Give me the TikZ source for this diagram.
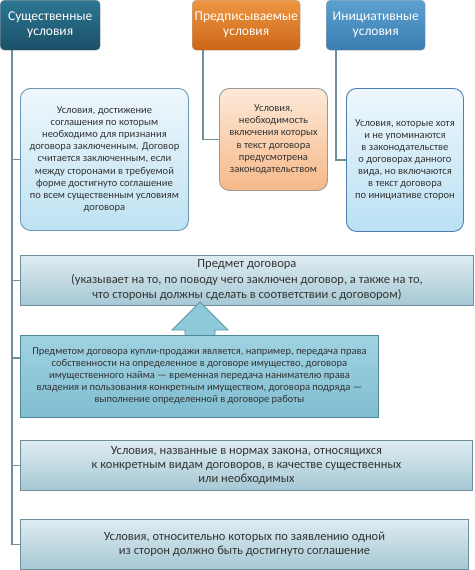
\documentclass[tikz,border=0pt]{standalone}
\usepackage{fontspec}
\setmainfont{Carlito}
\definecolor{linegray}{HTML}{6E8F99}
\definecolor{txt}{HTML}{333333}
\definecolor{widetop}{RGB}{222,236,241}
\definecolor{widebot}{RGB}{165,200,212}
\tikzstyle{head}=[anchor=north west,rounded corners=4pt,text=white,align=center,
  font=\fontsize{13.5}{15}\selectfont,minimum height=50pt,inner sep=2pt,draw=black!30]
\tikzstyle{desc}=[anchor=north west,rounded corners=10pt,align=center,text=txt,
  font=\fontsize{10.5}{12.1}\selectfont,inner sep=2pt,line width=0.9pt]
\tikzstyle{wide}=[anchor=north west,align=center,text=txt,draw=linegray,line width=0.9pt,
  top color=widetop,bottom color=widebot,
  font=\fontsize{12.5}{15.5}\selectfont,inner sep=2pt,minimum height=50pt]
\tikzstyle{link}=[draw=linegray,line width=1.1pt]

\begin{document}
\begin{tikzpicture}[x=1pt,y=-1pt]
        \useasboundingbox[fill=white] (0,0) rectangle (474,570);
        % headings
        \node[head,top color={rgb,255:red,44;green,118;blue,146},bottom color={rgb,255:red,26;green,80;blue,103},minimum width=100pt] (ess) at (0,0) {Существенные\\условия};
        \node[head,top color={rgb,255:red,238;green,150;blue,66},bottom color={rgb,255:red,203;green,102;blue,22},minimum width=108pt] (pres) at (192,0) {Предписываемые\\условия};
        \node[head,top color={rgb,255:red,92;green,160;blue,208},bottom color={rgb,255:red,58;green,124;blue,176},minimum width=99pt] (init) at (326,0) {Инициативные\\условия};
        % descriptions
        \node[desc,draw={rgb,255:red,106;green,151;blue,181},top color={rgb,255:red,238;green,247;blue,252},bottom color={rgb,255:red,190;green,226;blue,242},minimum width=168pt,minimum height=142pt] (essdesc) at (20,88) {Условия, достижение\\соглашения по которым\\необходимо для признания\\договора заключенным. Договор\\считается заключенным, если\\между сторонами в требуемой\\форме достигнуто соглашение\\по всем существенным условиям\\договора};
        \node[desc,draw=black!40,top color={rgb,255:red,253;green,234;blue,216},bottom color={rgb,255:red,246;green,184;blue,136},minimum width=108pt,minimum height=102pt] (presdesc) at (219,88) {Условия,\\необходимость\\включения которых\\в текст договора\\предусмотрена\\законодательством};
        \node[desc,draw={rgb,255:red,79;green,127;blue,174},top color={rgb,255:red,238;green,247;blue,252},bottom color={rgb,255:red,186;green,224;blue,244},minimum width=117pt,minimum height=143pt] (initdesc) at (346,88) {Условия, которые хотя\\и не упоминаются\\в законодательстве\\о договорах данного\\вида, но включаются\\в текст договора\\по инициативе сторон};
        % subject of the contract
        \node[wide,minimum width=453pt] (subj) at (20,255) {Предмет договора\\(указывает на то, по поводу чего заключен договор, а также на то,\\что стороны должны сделать в соответствии с договором)};
        \filldraw[fill={rgb,255:red,143;green,202;blue,219},draw={rgb,255:red,94;green,149;blue,165},line width=0.9pt]
          (200,302) -- (228,330) -- (215,330) -- (215,336) -- (185,336) -- (185,330) -- (172,330) -- cycle;
        \node[wide,top color={rgb,255:red,160;green,210;blue,225},bottom color={rgb,255:red,128;green,190;blue,209},draw={rgb,255:red,79;green,135;blue,151},
          font=\fontsize{10.5}{12}\selectfont,minimum width=358pt,minimum height=82pt] (sample) at (20,335) {Предметом договора купли-продажи является, например, передача права\\собственности на определенное в договоре имущество, договора\\имущественного найма — временная передача нанимателю права\\владения и пользования конкретным имуществом, договора подряда —\\выполнение определенной в договоре работы};
        \node[wide,font=\fontsize{12.5}{14}\selectfont,minimum width=452pt] (law) at (20,440) {Условия, названные в нормах закона, относящихся\\к конкретным видам договоров, в качестве существенных\\или необходимых};
        \node[wide,font=\fontsize{12.5}{14}\selectfont,minimum width=448pt] (party) at (20,519) {Условия, относительно которых по заявлению одной\\из сторон должно быть достигнуто соглашение};
        % connectors
        \coordinate (t1) at (12,50);
        \coordinate (t2) at (203,50);
        \coordinate (t3) at (336,50);
        \coordinate (s1) at (20,358);
        \draw[link] (t1) |- (party.west);
        \draw[link] (t1) |- (essdesc.west);
        \draw[link] (t1) |- (subj.west);
        \draw[link] (t1) |- (s1);
        \draw[link] (t1) |- (law.west);
        \draw[link] (t2) |- (presdesc.west);
        \draw[link] (t3) |- (initdesc.west);
    \end{tikzpicture}
\end{document}
